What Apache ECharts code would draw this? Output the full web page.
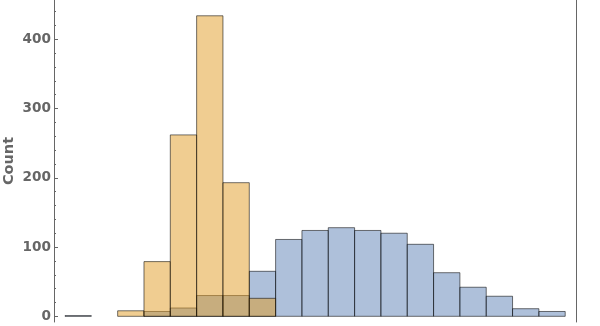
<!DOCTYPE html>
<html>
<head>
<meta charset="utf-8">
<script src="https://cdn.jsdelivr.net/npm/echarts@6/dist/echarts.min.js"></script>
<style>html,body{margin:0;padding:0;background:#fff}#c{width:600px;height:326px}</style>
</head>
<body>
<div id="c"></div>
<script>
// Histogram bins (index = bin number, each bin spans [i, i+1])
const bins = [0,1,2,3,4,5,6,7,8,9,10,11,12,13,14,15,16,17,18];
const blueCounts   = [1,0,0,7,12,30,30,65,111,124,128,124,120,104,63,42,29,11,7];
const orangeCounts = [0,0,8,79,262,434,193,26,0,0,0,0,0,0,0,0,0,0,0];
const majorTicks = [0,100,200,300,400];
const minorTicks = [20,40,60,80,120,140,160,180,220,240,260,280,320,340,360,380,420,440];
const yLabel = 'Count';

const Y_MIN = -8.2, Y_MAX = 456.8;
const X_MIN = -0.418, X_MAX = 19.41;

function histSeries(name, counts, fill) {
  return {
    type: 'custom',
    name: name,
    xAxisIndex: 0, yAxisIndex: 0,
    data: bins.map((b, i) => [b, counts[i]]),
    renderItem: function (params, api) {
      const i = api.value(0), v = api.value(1);
      if (!v) return null;
      const p0 = api.coord([i, 0]);
      const p1 = api.coord([i + 1, v]);
      return {
        type: 'rect',
        shape: { x: p0[0], y: p1[1], width: p1[0] - p0[0], height: p0[1] - p1[1] },
        style: { fill: fill, stroke: 'rgba(0,0,0,0.55)', lineWidth: 1 }
      };
    },
    silent: true,
    animation: false
  };
}

const chart = echarts.init(document.getElementById('c'), null, { renderer: 'canvas' });
const labelFont = { fontFamily: 'DejaVu Sans', fontWeight: 'bold', fontSize: 13.6, color: '#666' };
const nameFont = { fontFamily: 'DejaVu Sans', fontWeight: 'bold', fontSize: 14.5, color: '#666' };
const gridBox = { left: 54, right: 24, top: 0, bottom: 4, containLabel: false, outerBoundsMode: 'none' };
chart.setOption({
  animation: false,
  grid: [Object.assign({}, gridBox), Object.assign({}, gridBox)],
  xAxis: [
    { type: 'value', gridIndex: 0, min: X_MIN, max: X_MAX, show: false },
    { type: 'value', gridIndex: 1, min: X_MIN, max: X_MAX, show: false }
  ],
  yAxis: [
    {
      type: 'value', gridIndex: 0, min: Y_MIN, max: Y_MAX, position: 'left', offset: 0,
      name: yLabel, nameLocation: 'middle', nameRotate: 90, nameGap: 37, nameMoveOverlap: false,
      nameTextStyle: nameFont,
      axisLine: { show: true, onZero: false, lineStyle: { color: '#666', width: 1 } },
      axisTick: { show: true, inside: true, length: 4, customValues: majorTicks, lineStyle: { color: '#666' } },
      axisLabel: Object.assign({ show: true, margin: 3, customValues: majorTicks }, labelFont),
      splitLine: { show: false }
    },
    {
      type: 'value', gridIndex: 0, min: Y_MIN, max: Y_MAX, position: 'right', offset: 0,
      axisLine: { show: true, onZero: false, lineStyle: { color: '#666', width: 1 } },
      axisTick: { show: false },
      axisLabel: { show: false },
      splitLine: { show: false }
    },
    {
      type: 'value', gridIndex: 1, min: Y_MIN, max: Y_MAX, position: 'left', offset: 0,
      axisLine: { show: false, onZero: false },
      axisTick: { show: true, inside: true, length: 2, customValues: minorTicks, lineStyle: { color: '#666' } },
      axisLabel: { show: false },
      splitLine: { show: false }
    }
  ],
  series: [
    histSeries('blue', blueCounts, 'rgba(94,129,181,0.5)'),
    histSeries('orange', orangeCounts, 'rgba(225,156,36,0.5)')
  ]
});
</script>
</body>
</html>
